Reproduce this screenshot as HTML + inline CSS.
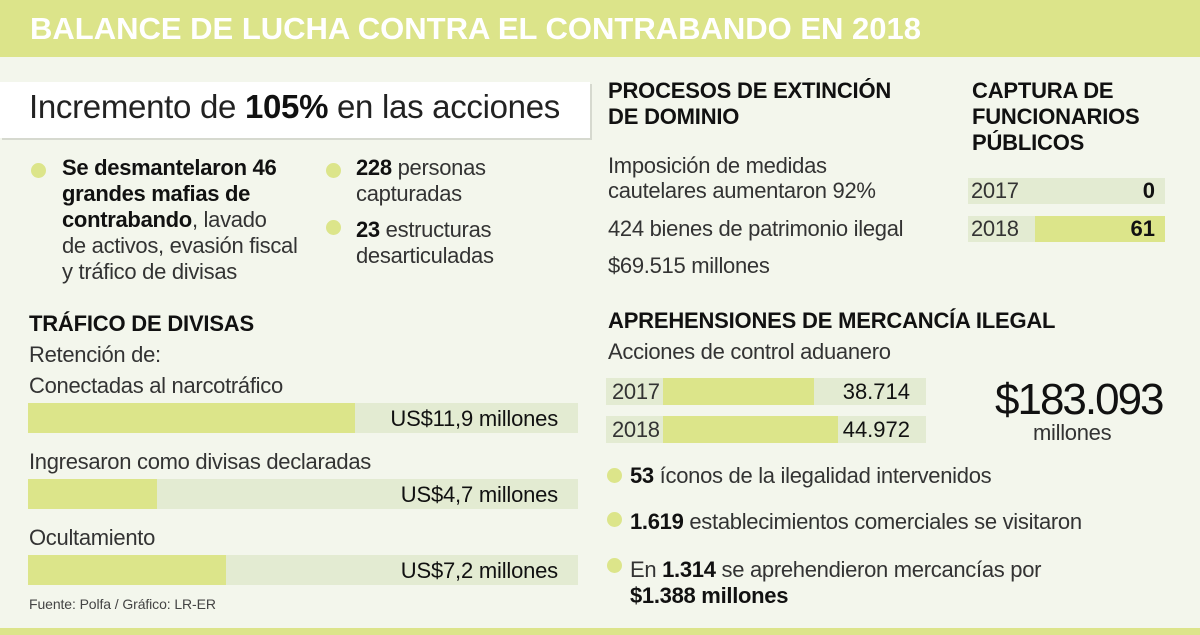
<!DOCTYPE html>
<html><head><meta charset="utf-8">
<style>
*{margin:0;padding:0;box-sizing:border-box}
body{width:1200px;height:635px;background:#f3f6ec;font-family:"Liberation Sans",sans-serif;color:#222;position:relative;overflow:hidden}
.a{position:absolute;white-space:nowrap}
.h{font-weight:bold;font-size:22px;letter-spacing:-0.2px;color:#111}
.t{font-size:22px;letter-spacing:-0.3px;color:#333}
.dot{position:absolute;width:15px;height:15px;border-radius:50%;background:#dce58a}
.track{position:absolute;background:#e3ebd2}
.fill{position:absolute;background:#dce58a;left:0;top:0;bottom:0}
b{color:#111}
</style></head><body>
<div class="a" style="left:0;top:0;width:1200px;height:57px;background:#dce48a"></div>
<div class="a" style="left:30px;top:11px;font-size:31px;font-weight:bold;color:#fff;letter-spacing:0">BALANCE DE LUCHA CONTRA EL CONTRABANDO EN 2018</div>
<div class="a" style="left:0;top:82px;width:590px;height:56px;background:#fff;box-shadow:2px 2px 0 #d6d9cf"></div>
<div class="a" style="left:29px;top:88px;font-size:33px;letter-spacing:-0.3px;color:#222">Incremento de <b>105%</b> en las acciones</div>

<div class="dot" style="left:31px;top:163px"></div>
<div class="a t" style="left:62px;top:155px;line-height:26px"><b>Se desmantelaron 46<br>grandes mafias de<br>contrabando</b>, lavado<br>de activos, evasión fiscal<br>y tráfico de divisas</div>
<div class="dot" style="left:326px;top:163px"></div>
<div class="a t" style="left:356px;top:155px;line-height:26px"><b>228</b> personas<br>capturadas</div>
<div class="dot" style="left:326px;top:220px"></div>
<div class="a t" style="left:356px;top:217px;line-height:26px"><b>23</b> estructuras<br>desarticuladas</div>

<div class="a h" style="left:29px;top:311px">TRÁFICO DE DIVISAS</div>
<div class="a t" style="left:29px;top:342px">Retención de:</div>
<div id="divisas"></div>
<div class="a" style="left:29px;top:596px;font-size:14px;color:#444;letter-spacing:-0.1px">Fuente: Polfa / Gráfico: LR-ER</div>

<div class="a h" style="left:608px;top:78px;line-height:26px">PROCESOS DE EXTINCIÓN<br>DE DOMINIO</div>
<div class="a t" style="left:608px;top:153px;line-height:25px">Imposición de medidas<br>cautelares aumentaron 92%</div>
<div class="a t" style="left:608px;top:216px">424 bienes de patrimonio ilegal</div>
<div class="a t" style="left:608px;top:253px">$69.515 millones</div>

<div class="a h" style="left:972px;top:78px;line-height:26px">CAPTURA DE<br>FUNCIONARIOS<br>PÚBLICOS</div>
<div id="captura"></div>

<div class="a h" style="left:608px;top:308px">APREHENSIONES DE MERCANCÍA ILEGAL</div>
<div class="a t" style="left:608px;top:339px">Acciones de control aduanero</div>
<div id="aduana"></div>
<div class="a" style="left:995px;top:375px;font-size:44px;letter-spacing:-2px;color:#111">$183.093</div>
<div class="a t" style="left:1033px;top:420px">millones</div>

<div class="dot" style="left:607px;top:468px"></div>
<div class="a t" style="left:630px;top:463px"><b>53</b> íconos de la ilegalidad intervenidos</div>
<div class="dot" style="left:607px;top:512px"></div>
<div class="a t" style="left:630px;top:509px"><b>1.619</b> establecimientos comerciales se visitaron</div>
<div class="dot" style="left:607px;top:558px"></div>
<div class="a t" style="left:630px;top:557px;line-height:26px">En <b>1.314</b> se aprehendieron mercancías por<br><b>$1.388 millones</b></div>
<div class="a" style="left:0;top:628px;width:1200px;height:7px;background:#dce48a"></div>

<script>
const divisasCats=["Conectadas al narcotráfico","Ingresaron como divisas declaradas","Ocultamiento"];
const divisasVals=[11.9,4.7,7.2];
const divisasLabels=["US$11,9 millones","US$4,7 millones","US$7,2 millones"];
const capturaYears=["2017","2018"];
const capturaVals=[0,61];
const aduanaYears=["2017","2018"];
const aduanaVals=[38714,44972];
const aduanaLabels=["38.714","44.972"];

function mk(parent,css,cls){const d=document.createElement('div');if(cls)d.className=cls;d.style.cssText=css;parent.appendChild(d);return d;}
const xD=v=>v*27.5;
(function(){
  const host=document.getElementById('divisas');
  divisasCats.forEach((c,i)=>{
    const y=374+i*76;
    const l=mk(host,`left:29px;top:${y-1}px`,'a t');l.textContent=c;
    
    
    const tr=mk(host,`left:28px;top:${y+29}px;width:550px;height:30px`,'track');
    
    
    const f=mk(tr,`width:${xD(divisasVals[i])}px`,'fill');
    
    
    const v=mk(tr,`right:20px;top:3px;font-size:22px;letter-spacing:-0.2px;color:#111`,'a');v.textContent=divisasLabels[i];
    
    
  });
})();
(function(){
  const host=document.getElementById('captura');
  const mx=Math.max(...capturaVals);
  capturaYears.forEach((yr,i)=>{
    const y=178+i*38;
    const tr=mk(host,`left:968px;top:${y}px;width:197px;height:26px`,'track');
    
    
    const f=mk(tr,`left:67px;width:${130*capturaVals[i]/mx}px`,'fill');
    
    
    const l=mk(tr,`left:3px;top:0px`,'a t');l.textContent=yr;
    
    
    const v=mk(tr,`right:10px;top:0px;font-size:22px;font-weight:bold;color:#111`,'a');v.textContent=capturaVals[i];
    
    
  });
})();
(function(){
  const host=document.getElementById('aduana');
  const mx=Math.max(...aduanaVals);
  aduanaYears.forEach((yr,i)=>{
    const y=378+i*38;
    const tr=mk(host,`left:606px;top:${y}px;width:320px;height:27px`,'track');
    
    
    const f=mk(tr,`left:57px;width:${175*aduanaVals[i]/mx}px`,'fill');
    
    
    const l=mk(tr,`left:6px;top:1px`,'a t');l.textContent=yr;
    
    
    const v=mk(tr,`right:16px;top:1px;font-size:22px;color:#111`,'a');v.textContent=aduanaLabels[i];
    
    
  });
})();
</script>
</body></html>
